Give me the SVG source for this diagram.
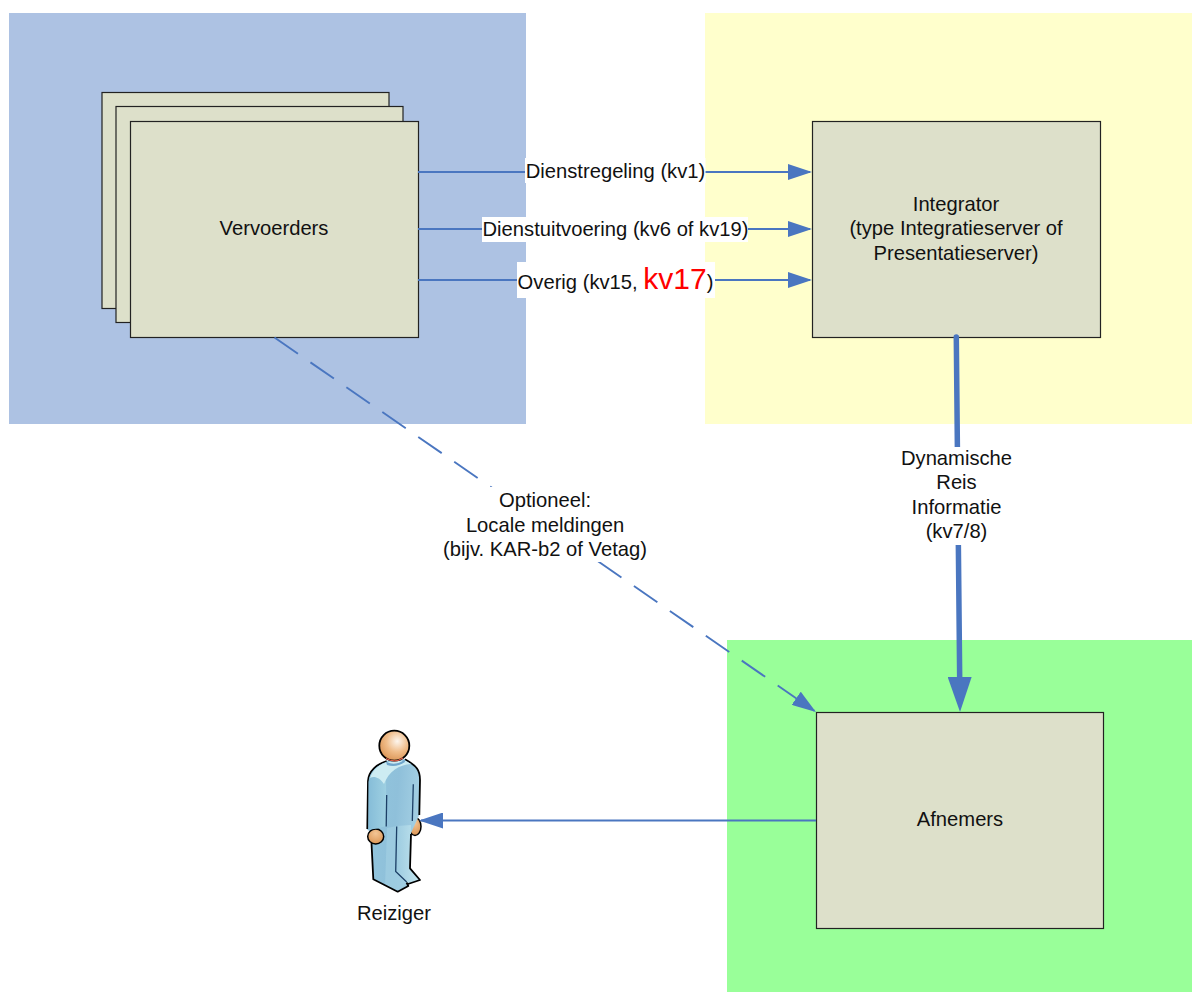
<svg xmlns="http://www.w3.org/2000/svg" width="1192" height="992" viewBox="0 0 1192 992">
<style>
text{font-family:"Liberation Sans",Arial,sans-serif;font-size:20.2px;fill:#111;text-anchor:middle}
.box{fill:#dde0ca;stroke:#222;stroke-width:1.2}
.c{fill:none;stroke:#4a76c0;stroke-width:1.9}
.lb{fill:#fff}
.ol{stroke:#000;stroke-width:1.800;stroke-linejoin:round;fill:none}
.sm{stroke:#1c3f66;stroke-width:1.300;fill:none}
</style>
<defs>
<marker id="a" markerUnits="userSpaceOnUse" markerWidth="24" markerHeight="16" refX="22" refY="8" orient="auto"><path d="M0 0L24 8L0 16Z" fill="#4a76c0"/></marker>
<marker id="b" markerUnits="userSpaceOnUse" markerWidth="35" markerHeight="24" refX="3" refY="12" orient="auto"><path d="M0 0L35 12L0 24Z" fill="#4a76c0"/></marker>
<radialGradient id="h" cx=".6" cy=".35" r=".72"><stop offset="0" stop-color="#fdf6ee"/><stop offset=".5" stop-color="#f0bd8a"/><stop offset="1" stop-color="#d9904f"/></radialGradient>
<radialGradient id="hand" cx=".5" cy=".3" r=".8"><stop offset="0" stop-color="#f3c595"/><stop offset="1" stop-color="#d88f4c"/></radialGradient>
<linearGradient id="s" x1="0" y1="0" x2="1" y2=".2"><stop offset="0" stop-color="#92c6dd"/><stop offset=".6" stop-color="#8fc0da"/><stop offset="1" stop-color="#a3cfe3"/></linearGradient>
<linearGradient id="arm" x1="0" y1="0" x2="1" y2="0"><stop offset="0" stop-color="#86bdd8"/><stop offset="1" stop-color="#a6d6e5"/></linearGradient>
<linearGradient id="r" x1="0" y1="0" x2="1" y2="0"><stop offset="0" stop-color="#9ccbe0"/><stop offset="1" stop-color="#c4e6ef"/></linearGradient>
</defs>
<g id="areas">
<rect x="9" y="13" width="517" height="411" fill="#adc2e3"/>
<rect x="705" y="13" width="487" height="411" fill="#ffffcc"/>
<rect x="727" y="640" width="465" height="352" fill="#99ff99"/>
</g>
<g id="vervoerders">
<rect class="box" x="102" y="92.500" width="287" height="216"/>
<rect class="box" x="116" y="106.500" width="287" height="216"/>
<rect class="box" x="130.500" y="121.500" width="288" height="216"/>
<text x="274" y="235">Vervoerders</text>
</g>
<g id="integrator">
<rect class="box" x="812.500" y="121.500" width="288" height="216"/>
<text x="956" y="211">Integrator</text>
<text x="956" y="235">(type Integratieserver of</text>
<text x="956" y="260">Presentatieserver)</text>
</g>
<g id="afnemers">
<rect class="box" x="816.500" y="712.500" width="287" height="216"/>
<text x="960" y="826">Afnemers</text>
</g>
<g id="reiziger">
<ellipse cx="415" cy="826.500" rx="6" ry="9" fill="url(#hand)" stroke="#000" stroke-width="1.500"/>
<path id="body" d="M386.700 761C377 764 368.500 771 368 781L367.300 830L370 831L372 842L373.300 879.300L397.700 891.700L408.300 886L406 883L420 880L410 868.300L411 833L419.300 815L420 780C420 770 417 766 405 759.300Z" fill="url(#s)"/>
<path d="M397 826L411 825L410 868.300L420 880L406 884L396 872Z" fill="url(#r)"/>
<path d="M387 828L396.700 826L395.700 872L406.500 883L397.700 891.700L385 885Z" fill="#a1cee2" opacity=".7"/>
<path class="ol" d="M386.700 761C377 764 368.500 771 368 781L367.300 829M371.500 843L373.300 879.300L397.700 891.700L408.300 886L406.500 882.500M411 834L410 868.300L420 880L406.500 884.500M405 759.300C417 766 420 770 420 780L419.300 815"/>
<ellipse cx="375.700" cy="836.500" rx="8" ry="7.500" fill="url(#hand)" stroke="#000" stroke-width="1.500"/>
<path d="M368.500 782C369 773 377 765 386.700 762L392 765L386 780L386.500 826C380 828 373 829 368.500 830Z" fill="url(#arm)"/>
<path d="M370 778C373 769 380 764 388 762L405 760.500L411 764C399 765 389 771 384 784C379 777 374 776 370 778Z" fill="#cdecf2"/>
<path class="sm" d="M386.700 795L386.200 826.500M396.700 826.500L395.700 871.500L406.700 882M413.300 784.300L412.300 821"/>
<path d="M386 761.500Q395 767 404.500 759.500L405 762Q396 768 387 765Z" fill="#6fa6cc"/>
<circle cx="394.300" cy="745.700" r="15" fill="url(#h)" stroke="#000" stroke-width="1.800"/>
<path d="M386 758.500Q395 763.500 403 758" fill="none" stroke="#e2604a" stroke-width="1.200"/>
<text x="394" y="920">Reiziger</text>
</g>
<g id="connectors">
<path class="c" d="M418 172H810" marker-end="url(#a)"/>
<path class="c" d="M418 229H810" marker-end="url(#a)"/>
<path class="c" d="M418 280H810" marker-end="url(#a)"/>
<path d="M956.300 337L959.700 680" fill="none" stroke="#4a76c0" stroke-width="5.500" stroke-linecap="round" marker-end="url(#b)"/>
<path class="c" d="M274.500 337.500L814.300 710.800" stroke-dasharray="28.500 15.200" marker-end="url(#a)"/>
<path class="c" d="M816 820.500H421" marker-end="url(#a)"/>
</g>
<g id="labels">
<rect class="lb" x="525" y="158" width="180.500" height="25"/>
<text x="615.500" y="178">Dienstregeling (kv1)</text>
<rect class="lb" x="482" y="217" width="266" height="25"/>
<text x="615.500" y="236">Dienstuitvoering (kv6 of kv19)</text>
<rect class="lb" x="517" y="262" width="198" height="36"/>
<text x="615.500" y="288.500">Overig (kv15, <tspan fill="#ff0000" font-size="30">kv17</tspan>)</text>
<rect class="lb" x="900" y="447" width="113" height="98"/>
<text x="956.500" y="464.500">Dynamische</text>
<text x="956.500" y="489">Reis</text>
<text x="956.500" y="514">Informatie</text>
<text x="956.500" y="538">(kv7/8)</text>
<rect class="lb" x="441" y="487" width="210" height="75"/>
<text x="545" y="507">Optioneel:</text>
<text x="545" y="532">Locale meldingen</text>
<text x="545" y="556">(bijv. KAR-b2 of Vetag)</text>
</g>
</svg>
